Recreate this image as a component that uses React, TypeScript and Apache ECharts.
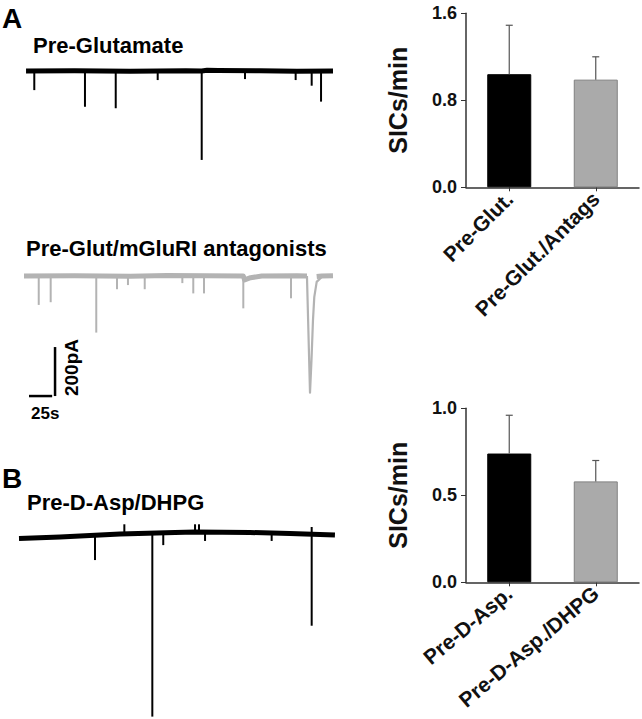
import React, { useEffect, useRef } from "react";
import * as echarts from "echarts";

// ---------------- Bar chart data ----------------
const barCatsA = ["Pre-Glut.", "Pre-Glut./Antags"];
const barMeansA = [1.04, 0.99];
const barUpperA = [1.49, 1.2];
const barCatsB = ["Pre-D-Asp.", "Pre-D-Asp./DHPG"];
const barMeansB = [0.74, 0.58];
const barUpperB = [0.96, 0.7];
const yRangeA = [0, 1.6, 0.8]; // min, max, interval
const yRangeB = [0, 1.0, 0.5];

// ---------------- Trace data: [time (s), current (pA)] ----------------
const trace1Baseline = [
  [7.6, 0], [60, 1], [120, -1], [180, 1], [197.2, 0], [203, 3], [215, 2], [260, 1], [300, -1], [338.9, 0],
];
// events: [time, baseline pA, peak pA]
const trace1Events = [
  [16.5, 0, -78], [71.2, 0, -146], [104.4, 0, -152], [149.7, 0, -37], [197.2, 0, -363],
  [243.9, 0, -33], [298.6, 0, -37], [315.9, 0, -60], [326.0, 0, -125],
];

const trace2BaselineA = [
  [5.4, 0], [60, 1], [120, -1], [160, 2], [242.1, 0], [243.5, -16], [250, -7], [262, 0], [300, 1], [310.8, 0],
];
const trace2SlowEvent = [
  [310.8, 0], [314.1, -476], [315.7, -343], [317.3, -180], [318.7, -86], [321.3, -24], [326.7, -4],
];
const trace2BaselineB = [[321.3, -2], [326.7, 0], [338.9, 1]];
const trace2Events = [
  [21.3, 0, -118], [34.2, 0, -107], [83.4, 0, -231], [105.8, 0, -54], [117.6, 0, -37],
  [135.7, 0, -54], [176.3, 0, -29], [188.1, 0, -71], [199.7, 0, -71], [242.1, 0, -132],
  [293.6, 0, -91],
];

const trace3Baseline = [
  [0, 0], [44.3, 6], [109, 18], [168.4, 24.5], [190, 26.5], [249.3, 24.5], [292.5, 20], [341, 14],
];
const trace3Events = [
  [82, 12, -88], [113.7, 18, 58], [143.9, 22, -727], [155.7, 23, -27], [190, 26, 58],
  [194.3, 26, 58], [200.8, 26, -10], [272.7, 23, -10], [315.9, 21, -356], [315.9, 21, 47],
];

// scale bar (in trace-2 units)
const scaleBarTime = [[10.8, -490], [35.8, -490]]; // 25 s
const scaleBarCurrent = [[38.9, -490], [38.9, -290]]; // 200 pA

// ---------------- layout helpers ----------------
const PX_PER_S = 0.9265;
const PX_PER_PA = 0.245;
const T_MAX = 342;
const TRACE_LEFT = 19;

function traceGrid(zeroY: number, minPA: number, maxPA: number) {
  return {
    left: TRACE_LEFT,
    top: zeroY - maxPA * PX_PER_PA,
    width: T_MAX * PX_PER_S,
    height: (maxPA - minPA) * PX_PER_PA,
  };
}

const FONT = "'Liberation Sans', Arial, Helvetica, sans-serif";

const eventRender = (color: string, width: number) => (_p: any, api: any) => {
  const a = api.coord([api.value(0), api.value(1)]);
  const b = api.coord([api.value(0), api.value(2)]);
  return {
    type: "line",
    shape: { x1: a[0], y1: a[1], x2: b[0], y2: b[1] },
    style: { stroke: color, lineWidth: width },
  };
};

const errRender = (_p: any, api: any) => {
  const a = api.coord([api.value(0), api.value(1)]);
  const b = api.coord([api.value(0), api.value(2)]);
  const half = 3.5;
  return {
    type: "group",
    children: [
      { type: "line", shape: { x1: a[0], y1: a[1], x2: b[0], y2: b[1] }, style: { stroke: "#555", lineWidth: 1.2 } },
      { type: "line", shape: { x1: b[0] - half, y1: b[1], x2: b[0] + half, y2: b[1] }, style: { stroke: "#555", lineWidth: 1.2 } },
    ],
  };
};

function lineSeries(data: number[][], idx: number, color: string, width: number) {
  return {
    type: "line",
    xAxisIndex: idx,
    yAxisIndex: idx,
    data,
    symbol: "none",
    lineStyle: { color, width, join: "round" },
    silent: true,
    clip: false,
  };
}

function eventSeries(data: number[][], idx: number, color: string, width: number) {
  return {
    type: "custom",
    xAxisIndex: idx,
    yAxisIndex: idx,
    data,
    encode: { x: 0, y: [1, 2] },
    renderItem: eventRender(color, width),
    silent: true,
    clip: false,
  };
}

function barAxes(cats: string[], range: number[], rotate: number, idx: number) {
  const x = {
    type: "category",
    gridIndex: idx,
    data: cats,
    axisLine: { lineStyle: { color: "#333", width: 1.5 } },
    axisTick: { show: true, alignWithLabel: true, length: 4, lineStyle: { color: "#333" } },
    axisLabel: {
      interval: 0,
      rotate,
      margin: 8,
      color: "#111",
      fontFamily: FONT,
      fontWeight: "bold",
      fontSize: 21,
    },
  };
  const y = {
    type: "value",
    gridIndex: idx,
    min: range[0],
    max: range[1],
    interval: range[2],
    name: "SICs/min",
    nameLocation: "middle",
    nameRotate: 90,
    nameGap: 56,
    nameTextStyle: { fontFamily: FONT, fontWeight: "bold", fontSize: 25, color: "#111" },
    axisLine: { show: true, lineStyle: { color: "#333", width: 1.5 } },
    axisTick: { show: true, length: 5, lineStyle: { color: "#333" } },
    splitLine: { show: false },
    axisLabel: {
      margin: 9,
      color: "#111",
      fontFamily: FONT,
      fontWeight: "bold",
      fontSize: 18,
      formatter: (v: number) => v.toFixed(1),
    },
  };
  return { x, y };
}

function barSeries(means: number[], upper: number[], idx: number) {
  return [
    {
      type: "bar",
      xAxisIndex: idx,
      yAxisIndex: idx,
      barWidth: 44,
      data: means.map((v, i) => ({
        value: v,
        itemStyle:
          i === 0
            ? { color: "#000000", borderColor: "#000000", borderWidth: 1 }
            : { color: "#aaaaaa", borderColor: "#808080", borderWidth: 1 },
      })),
      silent: true,
    },
    {
      type: "custom",
      xAxisIndex: idx,
      yAxisIndex: idx,
      data: means.map((m, i) => [i, m, upper[i]]),
      encode: { x: 0, y: [1, 2] },
      renderItem: errRender,
      silent: true,
      z: 3,
    },
  ];
}

function txt(text: string, x: number, y: number, size: number, extra: any = {}) {
  return {
    type: "text",
    x,
    y,
    ...extra,
    style: {
      text,
      fill: "#000",
      fontFamily: FONT,
      fontWeight: "bold",
      fontSize: size,
      align: extra.align || "left",
      verticalAlign: "middle",
    },
  };
}

export default function App() {
  const ref = useRef<HTMLDivElement>(null);
  useEffect(() => {
    if (!ref.current) return;
    const chart = echarts.init(ref.current, undefined, { renderer: "svg" });
    const g1 = traceGrid(71, -400, 40);
    const g2 = traceGrid(276, -520, 40);
    const g3 = traceGrid(538.5, -735, 80);
    const bA = barAxes(barCatsA, yRangeA, 45, 3);
    const bB = barAxes(barCatsB, yRangeB, 40, 4);
    const traceX = (i: number) => ({ type: "value", gridIndex: i, min: 0, max: T_MAX, show: false });
    const traceY = (i: number, min: number, max: number) => ({ type: "value", gridIndex: i, min, max, show: false });

    chart.setOption({
      animation: false,
      backgroundColor: "#ffffff",
      grid: [
        g1,
        g2,
        g3,
        { left: 466, top: 13.3, width: 173, height: 174 },
        { left: 466, top: 408.3, width: 173, height: 174 },
      ],
      xAxis: [traceX(0), traceX(1), traceX(2), bA.x, bB.x],
      yAxis: [traceY(0, -400, 40), traceY(1, -520, 40), traceY(2, -735, 80), bA.y, bB.y],
      series: [
        lineSeries(trace1Baseline, 0, "#000000", 5),
        eventSeries(trace1Events, 0, "#000000", 2),
        lineSeries(trace2BaselineA, 1, "#b3b3b3", 5),
        lineSeries(trace2BaselineB, 1, "#b3b3b3", 5),
        lineSeries(trace2SlowEvent, 1, "#b3b3b3", 2.2),
        eventSeries(trace2Events, 1, "#b3b3b3", 2),
        lineSeries(scaleBarTime, 1, "#000000", 2.5),
        lineSeries(scaleBarCurrent, 1, "#000000", 2.5),
        lineSeries(trace3Baseline, 2, "#000000", 5),
        eventSeries(trace3Events, 2, "#000000", 2),
        ...barSeries(barMeansA, barUpperA, 3),
        ...barSeries(barMeansB, barUpperB, 4),
      ],
      graphic: [
        txt("A", 2, 18, 28),
        txt("B", 2, 478, 28),
        txt("Pre-Glutamate", 33, 45, 22),
        txt("Pre-Glut/mGluRI antagonists", 26, 248.5, 22),
        txt("Pre-D-Asp/DHPG", 27, 502.5, 22),
        txt("25s", 31, 413.5, 17),
        txt("200pA", 71.5, 367.5, 19, { rotation: Math.PI / 2, align: "center" }),
      ],
    });
    return () => chart.dispose();
  }, []);
  return (
    <div
      ref={ref}
      style={{ position: "absolute", left: 0, top: 0, width: 642, height: 719, background: "#fff" }}
    />
  );
}
